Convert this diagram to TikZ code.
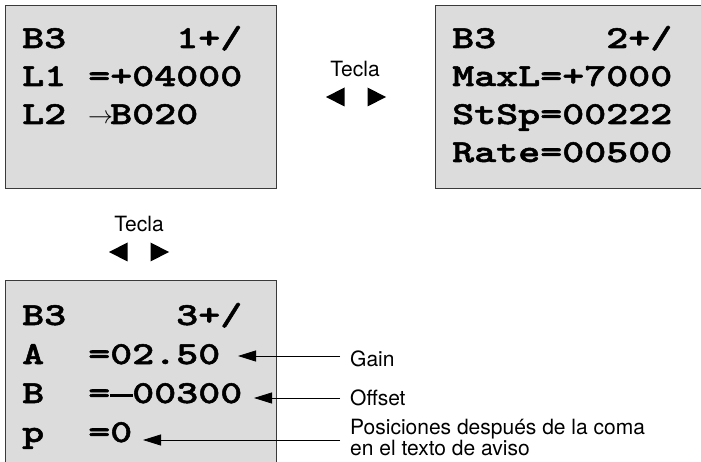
\documentclass[tikz,border=0pt]{standalone}
\usepackage{fontspec}
\setsansfont{TeX Gyre Heros}
\newfontfamily\lcdfont{lmmonolt10-bold.otf}[FakeStretch=1.31, FakeBold=1.6]
\usetikzlibrary{arrows.meta, positioning}

\definecolor{lcdgray}{HTML}{DCDCDC}
\definecolor{lcdframe}{HTML}{3A3A3A}

% thin arrow and long minus inside the display text
\newcommand{\lcdarrow}{\makebox[22pt][l]{\fontsize{30}{30}\selectfont$\rightarrow$}}
\newcommand{\lcdminus}{\makebox[22pt][l]{\rule[6pt]{23pt}{3.2pt}}}

\tikzset{
    lcd/.style={draw=lcdframe, line width=1.3pt, fill=lcdgray, anchor=north west, inner sep=0pt},
    lcdrow/.style={anchor=base west, inner sep=0pt, font=\lcdfont\fontsize{32}{32}\selectfont},
    keytext/.style={font=\sffamily\fontsize{21}{21}\selectfont, inner sep=0pt},
    callout/.style={line width=0.8pt, -{Triangle[length=18pt, width=11pt]}}
}

\begin{document}
\begin{tikzpicture}[x=1pt, y=-1pt]
    \useasboundingbox (0,0) rectangle (701,462);
    \clip (0,0) rectangle (701,462);

    % Display 1
    \node[lcd, minimum width=271, minimum height=183] (lcd1) at (5,5) {};
    \foreach \txt [count=\i] in {B3~~~~~1+/, L1~=+04000, L2~\lcdarrow B020}
        \node[lcdrow] (row1-\i) at (22,10+38*\i) {\txt};

    % Display 2
    \node[lcd, minimum width=272, minimum height=183] (lcd2) at (435,5) {};
    \foreach \txt [count=\i] in {B3~~~~~2+/, MaxL=+7000, StSp=00222, Rate=00500}
        \node[lcdrow] (row2-\i) at (452,10+38*\i) {\txt};

    % Display 3
    \node[lcd, minimum width=271, minimum height=200] (lcd3) at (5,280) {};
    \foreach \txt [count=\i] in {B3~~~~~3+/, A~~=02.50, B~~=\lcdminus00300, p~~=0}
        \node[lcdrow] (row3-\i) at (22,286+39*\i) {\txt};

    % Keys
    \node[keytext, anchor=base] (key1) at (355,77) {Tecla};
    \node[keytext, anchor=base] (key2) at (139,232) {Tecla};
    \foreach \kx/\ky in {356/97, 139/252} {
        \fill (\kx-30,\ky) -- (\kx-11.5,\ky-9.5) -- (\kx-11.5,\ky+9.5) -- cycle;
        \fill (\kx+30,\ky) -- (\kx+11.5,\ky-9.5) -- (\kx+11.5,\ky+9.5) -- cycle;
    }

    % Labels of display 3
    \coordinate (tipA) at (238,356);
    \coordinate (tipB) at (254,398);
    \coordinate (tipC) at (143,440);
    \node[keytext, anchor=base west] (gain) at (350,366) {Gain};
    \node[keytext, anchor=base west] (offset) at (350,405) {Offset};
    \node[keytext, anchor=base west, align=left] (places) at (350,455)
        {Posiciones después de la coma\\en el texto de aviso};
    \draw[callout, shorten <=10pt] (tipC -| places.west) -- (tipC);
    \draw[callout, shorten <=10pt] (tipA -| gain.west) -- (tipA);
    \draw[callout, shorten <=10pt] (tipB -| offset.west) -- (tipB);
\end{tikzpicture}
\end{document}
